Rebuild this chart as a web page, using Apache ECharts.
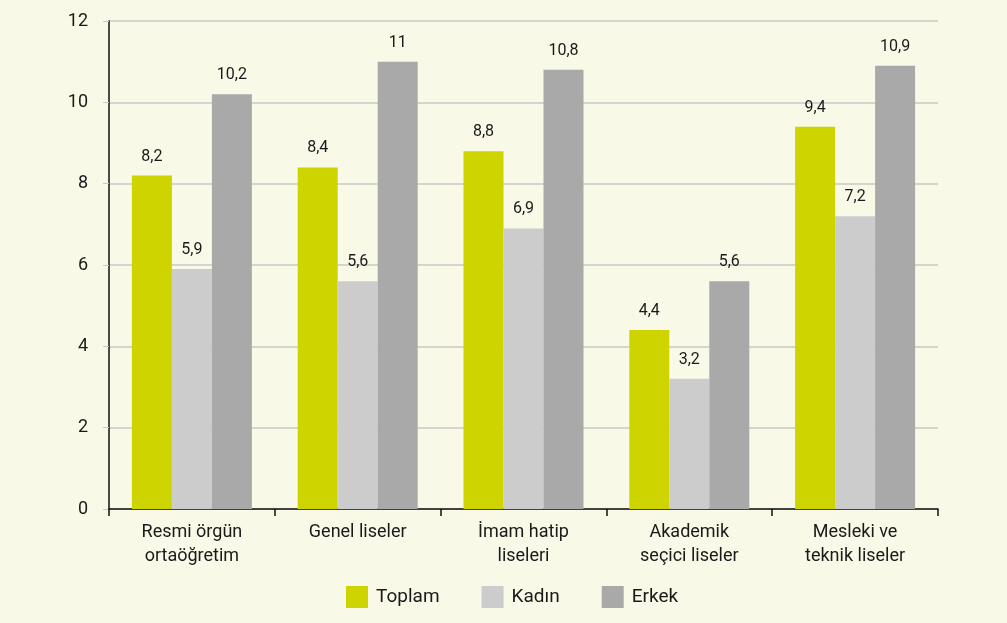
<!DOCTYPE html>
<html>
<head>
<meta charset="utf-8">
<title>Lise türlerine göre</title>
<script src="https://cdn.jsdelivr.net/npm/echarts@6/dist/echarts.min.js"></script>
<style>
  html, body { margin: 0; padding: 0; background: #f8f9e7; }
  #chart { width: 1007px; height: 623px; }
</style>
</head>
<body>
<div id="chart"></div>
<script>
// okul türleri
const categories = [
  'Resmi örgün\nortaöğretim',
  'Genel liseler',
  'İmam hatip\nliseleri',
  'Akademik\nseçici liseler',
  'Mesleki ve\nteknik liseler'
]
const seriesNames = ['Toplam', 'Kadın', 'Erkek']
const toplam = [8.2, 8.4, 8.8, 4.4, 9.4]
const kadin = [5.9, 5.6, 6.9, 3.2, 7.2]
const erkek = [10.2, 11, 10.8, 5.6, 10.9]
const yTicks = [0, 2, 4, 6, 8, 10, 12]

const colors = ['#cdd400', '#cccccc', '#a9a9aa']
const font = 'Roboto, "Open Sans", sans-serif'

const chart = echarts.init(document.getElementById('chart'))

function makeBar(name, data, color) {
  return {
    name: name,
    type: 'bar',
    data: data,
    barWidth: 40,
    barGap: '0%',
    itemStyle: { color: color },
    label: {
      show: true,
      position: 'top',
      distance: 11,
      fontFamily: font,
      fontSize: 16,
      color: '#1a1a1a',
      formatter: p => String(p.value).replace('.', ',')
    }
  }
}

const option = {
  backgroundColor: '#f8f9e7',
  animation: false,
  textStyle: { fontFamily: font },
  grid: { left: 109, right: 69, top: 21, bottom: 114 },
  legend: {
    left: 341,
    top: 581,
    itemWidth: 22,
    itemHeight: 22,
    itemGap: 42,
    icon: 'rect',
    data: seriesNames,
    textStyle: { fontFamily: font, fontSize: 19, color: '#1a1a1a', padding: [0, 0, 0, 3] }
  },
  xAxis: {
    type: 'category',
    data: categories,
    boundaryGap: true,
    axisLine: { lineStyle: { color: '#111', width: 1.5 } },
    axisTick: { show: true, length: 7, lineStyle: { color: '#111', width: 1.5 } },
    axisLabel: {
      fontFamily: font,
      fontSize: 18,
      color: '#1a1a1a',
      lineHeight: 24,
      margin: 11
    }
  },
  yAxis: [
    {
      type: 'value',
      min: yTicks[0],
      max: yTicks[yTicks.length - 1],
      interval: 2,
      axisLine: { show: false },
      axisTick: { show: true, length: 6, lineStyle: { color: '#c8c8c4' } },
      splitLine: { lineStyle: { color: '#c8c8c4', width: 1.5 } },
      axisLabel: { fontFamily: font, fontSize: 18, color: '#1a1a1a', margin: 21 }
    },
    {
      // just the vertical axis line, runs a bit past 12
      type: 'value',
      position: 'left',
      min: 0,
      max: 12.2,
      axisLine: { show: true, lineStyle: { color: '#111', width: 1.5 } },
      axisTick: { show: false },
      axisLabel: { show: false },
      splitLine: { show: false }
    }
  ],
  series: [
    makeBar(seriesNames[0], toplam, colors[0]),
    makeBar(seriesNames[1], kadin, colors[1]),
    makeBar(seriesNames[2], erkek, colors[2])
  ]
}

chart.setOption(option)
</script>
</body>
</html>
